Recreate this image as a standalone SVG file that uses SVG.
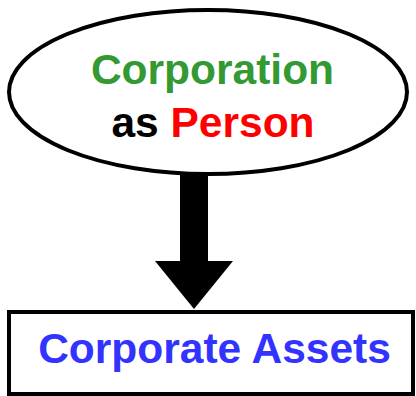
<svg xmlns="http://www.w3.org/2000/svg" width="416" height="396" viewBox="0 0 416 396">
  <style>
    .lbl { font-family: "Liberation Sans", Arial, sans-serif; font-weight: bold; font-size: 42.5px; text-anchor: middle; }
    .outline { fill: #ffffff; stroke: #000000; stroke-width: 4; }
  </style>
  <rect width="416" height="396" fill="#ffffff"/>
  <g id="connectors">
    <polygon points="180,172 208,172 208,261 233,261 194,309 155,261 180,261" fill="#000000"/>
  </g>
  <g id="corporation-as-person">
    <ellipse class="outline" cx="208" cy="92" rx="199" ry="82"/>
    <text class="lbl" x="212.5" y="84" fill="#339933">Corporation</text>
    <text class="lbl" x="213" y="137"><tspan fill="#000000">as </tspan><tspan fill="#ff0000">Person</tspan></text>
  </g>
  <g id="corporate-assets">
    <rect class="outline" x="9" y="312" width="404" height="82"/>
    <text class="lbl" x="214.5" y="363" fill="#3333ff">Corporate Assets</text>
  </g>
</svg>
